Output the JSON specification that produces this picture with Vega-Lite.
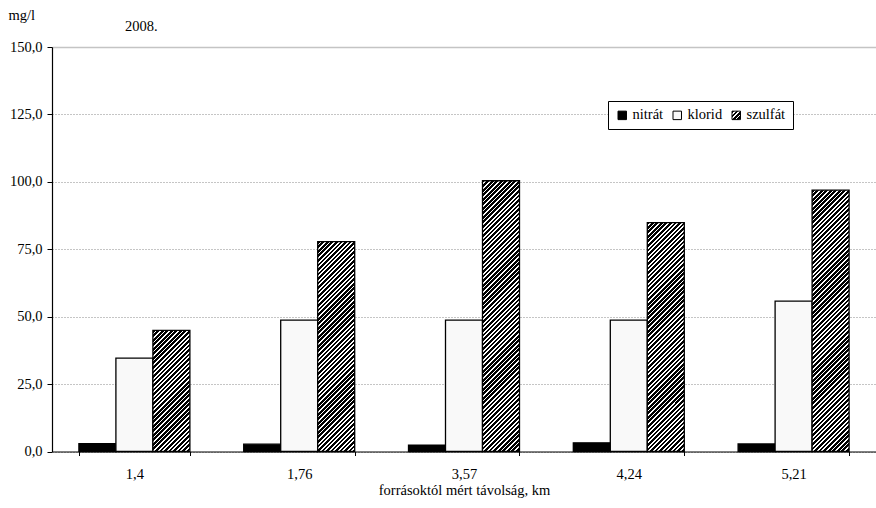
{
  "$schema": "https://vega.github.io/schema/vega-lite/v6.json",
  "width": 824,
  "height": 404.5,
  "autosize": {"type": "none"},
  "padding": {"left": 52, "top": 47, "right": 0, "bottom": 56.5},
  "background": "#ffffff",
  "title": {"text": "2008.", "anchor": "start", "frame": "group", "dx": 73, "dy": 53.5, "offset": 15.5, "baseline": "alphabetic", "font": "Liberation Serif", "fontSize": 14.5, "fontWeight": "normal", "color": "#000"},
  "params": [
    {"name": "hatch", "value": [
{"offset":0,"color":"#000"},{"offset":0.006,"color":"#000"},{"offset":0.006,"color":"#fff"},{"offset":0.01,"color":"#fff"},
{"offset":0.01,"color":"#000"},{"offset":0.016,"color":"#000"},{"offset":0.016,"color":"#fff"},{"offset":0.02,"color":"#fff"},
{"offset":0.02,"color":"#000"},{"offset":0.026,"color":"#000"},{"offset":0.026,"color":"#fff"},{"offset":0.03,"color":"#fff"},
{"offset":0.03,"color":"#000"},{"offset":0.036,"color":"#000"},{"offset":0.036,"color":"#fff"},{"offset":0.04,"color":"#fff"},
{"offset":0.04,"color":"#000"},{"offset":0.046,"color":"#000"},{"offset":0.046,"color":"#fff"},{"offset":0.05,"color":"#fff"},
{"offset":0.05,"color":"#000"},{"offset":0.056,"color":"#000"},{"offset":0.056,"color":"#fff"},{"offset":0.06,"color":"#fff"},
{"offset":0.06,"color":"#000"},{"offset":0.066,"color":"#000"},{"offset":0.066,"color":"#fff"},{"offset":0.07,"color":"#fff"},
{"offset":0.07,"color":"#000"},{"offset":0.076,"color":"#000"},{"offset":0.076,"color":"#fff"},{"offset":0.08,"color":"#fff"},
{"offset":0.08,"color":"#000"},{"offset":0.086,"color":"#000"},{"offset":0.086,"color":"#fff"},{"offset":0.09,"color":"#fff"},
{"offset":0.09,"color":"#000"},{"offset":0.096,"color":"#000"},{"offset":0.096,"color":"#fff"},{"offset":0.1,"color":"#fff"},
{"offset":0.1,"color":"#000"},{"offset":0.106,"color":"#000"},{"offset":0.106,"color":"#fff"},{"offset":0.11,"color":"#fff"},
{"offset":0.11,"color":"#000"},{"offset":0.116,"color":"#000"},{"offset":0.116,"color":"#fff"},{"offset":0.12,"color":"#fff"},
{"offset":0.12,"color":"#000"},{"offset":0.126,"color":"#000"},{"offset":0.126,"color":"#fff"},{"offset":0.13,"color":"#fff"},
{"offset":0.13,"color":"#000"},{"offset":0.136,"color":"#000"},{"offset":0.136,"color":"#fff"},{"offset":0.14,"color":"#fff"},
{"offset":0.14,"color":"#000"},{"offset":0.146,"color":"#000"},{"offset":0.146,"color":"#fff"},{"offset":0.15,"color":"#fff"},
{"offset":0.15,"color":"#000"},{"offset":0.156,"color":"#000"},{"offset":0.156,"color":"#fff"},{"offset":0.16,"color":"#fff"},
{"offset":0.16,"color":"#000"},{"offset":0.166,"color":"#000"},{"offset":0.166,"color":"#fff"},{"offset":0.17,"color":"#fff"},
{"offset":0.17,"color":"#000"},{"offset":0.176,"color":"#000"},{"offset":0.176,"color":"#fff"},{"offset":0.18,"color":"#fff"},
{"offset":0.18,"color":"#000"},{"offset":0.186,"color":"#000"},{"offset":0.186,"color":"#fff"},{"offset":0.19,"color":"#fff"},
{"offset":0.19,"color":"#000"},{"offset":0.196,"color":"#000"},{"offset":0.196,"color":"#fff"},{"offset":0.2,"color":"#fff"},
{"offset":0.2,"color":"#000"},{"offset":0.206,"color":"#000"},{"offset":0.206,"color":"#fff"},{"offset":0.21,"color":"#fff"},
{"offset":0.21,"color":"#000"},{"offset":0.216,"color":"#000"},{"offset":0.216,"color":"#fff"},{"offset":0.22,"color":"#fff"},
{"offset":0.22,"color":"#000"},{"offset":0.226,"color":"#000"},{"offset":0.226,"color":"#fff"},{"offset":0.23,"color":"#fff"},
{"offset":0.23,"color":"#000"},{"offset":0.236,"color":"#000"},{"offset":0.236,"color":"#fff"},{"offset":0.24,"color":"#fff"},
{"offset":0.24,"color":"#000"},{"offset":0.246,"color":"#000"},{"offset":0.246,"color":"#fff"},{"offset":0.25,"color":"#fff"},
{"offset":0.25,"color":"#000"},{"offset":0.256,"color":"#000"},{"offset":0.256,"color":"#fff"},{"offset":0.26,"color":"#fff"},
{"offset":0.26,"color":"#000"},{"offset":0.266,"color":"#000"},{"offset":0.266,"color":"#fff"},{"offset":0.27,"color":"#fff"},
{"offset":0.27,"color":"#000"},{"offset":0.276,"color":"#000"},{"offset":0.276,"color":"#fff"},{"offset":0.28,"color":"#fff"},
{"offset":0.28,"color":"#000"},{"offset":0.286,"color":"#000"},{"offset":0.286,"color":"#fff"},{"offset":0.29,"color":"#fff"},
{"offset":0.29,"color":"#000"},{"offset":0.296,"color":"#000"},{"offset":0.296,"color":"#fff"},{"offset":0.3,"color":"#fff"},
{"offset":0.3,"color":"#000"},{"offset":0.306,"color":"#000"},{"offset":0.306,"color":"#fff"},{"offset":0.31,"color":"#fff"},
{"offset":0.31,"color":"#000"},{"offset":0.316,"color":"#000"},{"offset":0.316,"color":"#fff"},{"offset":0.32,"color":"#fff"},
{"offset":0.32,"color":"#000"},{"offset":0.326,"color":"#000"},{"offset":0.326,"color":"#fff"},{"offset":0.33,"color":"#fff"},
{"offset":0.33,"color":"#000"},{"offset":0.336,"color":"#000"},{"offset":0.336,"color":"#fff"},{"offset":0.34,"color":"#fff"},
{"offset":0.34,"color":"#000"},{"offset":0.346,"color":"#000"},{"offset":0.346,"color":"#fff"},{"offset":0.35,"color":"#fff"},
{"offset":0.35,"color":"#000"},{"offset":0.356,"color":"#000"},{"offset":0.356,"color":"#fff"},{"offset":0.36,"color":"#fff"},
{"offset":0.36,"color":"#000"},{"offset":0.366,"color":"#000"},{"offset":0.366,"color":"#fff"},{"offset":0.37,"color":"#fff"},
{"offset":0.37,"color":"#000"},{"offset":0.376,"color":"#000"},{"offset":0.376,"color":"#fff"},{"offset":0.38,"color":"#fff"},
{"offset":0.38,"color":"#000"},{"offset":0.386,"color":"#000"},{"offset":0.386,"color":"#fff"},{"offset":0.39,"color":"#fff"},
{"offset":0.39,"color":"#000"},{"offset":0.396,"color":"#000"},{"offset":0.396,"color":"#fff"},{"offset":0.4,"color":"#fff"},
{"offset":0.4,"color":"#000"},{"offset":0.406,"color":"#000"},{"offset":0.406,"color":"#fff"},{"offset":0.41,"color":"#fff"},
{"offset":0.41,"color":"#000"},{"offset":0.416,"color":"#000"},{"offset":0.416,"color":"#fff"},{"offset":0.42,"color":"#fff"},
{"offset":0.42,"color":"#000"},{"offset":0.426,"color":"#000"},{"offset":0.426,"color":"#fff"},{"offset":0.43,"color":"#fff"},
{"offset":0.43,"color":"#000"},{"offset":0.436,"color":"#000"},{"offset":0.436,"color":"#fff"},{"offset":0.44,"color":"#fff"},
{"offset":0.44,"color":"#000"},{"offset":0.446,"color":"#000"},{"offset":0.446,"color":"#fff"},{"offset":0.45,"color":"#fff"},
{"offset":0.45,"color":"#000"},{"offset":0.456,"color":"#000"},{"offset":0.456,"color":"#fff"},{"offset":0.46,"color":"#fff"},
{"offset":0.46,"color":"#000"},{"offset":0.466,"color":"#000"},{"offset":0.466,"color":"#fff"},{"offset":0.47,"color":"#fff"},
{"offset":0.47,"color":"#000"},{"offset":0.476,"color":"#000"},{"offset":0.476,"color":"#fff"},{"offset":0.48,"color":"#fff"},
{"offset":0.48,"color":"#000"},{"offset":0.486,"color":"#000"},{"offset":0.486,"color":"#fff"},{"offset":0.49,"color":"#fff"},
{"offset":0.49,"color":"#000"},{"offset":0.496,"color":"#000"},{"offset":0.496,"color":"#fff"},{"offset":0.5,"color":"#fff"},
{"offset":0.5,"color":"#000"},{"offset":0.506,"color":"#000"},{"offset":0.506,"color":"#fff"},{"offset":0.51,"color":"#fff"},
{"offset":0.51,"color":"#000"},{"offset":0.516,"color":"#000"},{"offset":0.516,"color":"#fff"},{"offset":0.52,"color":"#fff"},
{"offset":0.52,"color":"#000"},{"offset":0.526,"color":"#000"},{"offset":0.526,"color":"#fff"},{"offset":0.53,"color":"#fff"},
{"offset":0.53,"color":"#000"},{"offset":0.536,"color":"#000"},{"offset":0.536,"color":"#fff"},{"offset":0.54,"color":"#fff"},
{"offset":0.54,"color":"#000"},{"offset":0.546,"color":"#000"},{"offset":0.546,"color":"#fff"},{"offset":0.55,"color":"#fff"},
{"offset":0.55,"color":"#000"},{"offset":0.556,"color":"#000"},{"offset":0.556,"color":"#fff"},{"offset":0.56,"color":"#fff"},
{"offset":0.56,"color":"#000"},{"offset":0.566,"color":"#000"},{"offset":0.566,"color":"#fff"},{"offset":0.57,"color":"#fff"},
{"offset":0.57,"color":"#000"},{"offset":0.576,"color":"#000"},{"offset":0.576,"color":"#fff"},{"offset":0.58,"color":"#fff"},
{"offset":0.58,"color":"#000"},{"offset":0.586,"color":"#000"},{"offset":0.586,"color":"#fff"},{"offset":0.59,"color":"#fff"},
{"offset":0.59,"color":"#000"},{"offset":0.596,"color":"#000"},{"offset":0.596,"color":"#fff"},{"offset":0.6,"color":"#fff"},
{"offset":0.6,"color":"#000"},{"offset":0.606,"color":"#000"},{"offset":0.606,"color":"#fff"},{"offset":0.61,"color":"#fff"},
{"offset":0.61,"color":"#000"},{"offset":0.616,"color":"#000"},{"offset":0.616,"color":"#fff"},{"offset":0.62,"color":"#fff"},
{"offset":0.62,"color":"#000"},{"offset":0.626,"color":"#000"},{"offset":0.626,"color":"#fff"},{"offset":0.63,"color":"#fff"},
{"offset":0.63,"color":"#000"},{"offset":0.636,"color":"#000"},{"offset":0.636,"color":"#fff"},{"offset":0.64,"color":"#fff"},
{"offset":0.64,"color":"#000"},{"offset":0.646,"color":"#000"},{"offset":0.646,"color":"#fff"},{"offset":0.65,"color":"#fff"},
{"offset":0.65,"color":"#000"},{"offset":0.656,"color":"#000"},{"offset":0.656,"color":"#fff"},{"offset":0.66,"color":"#fff"},
{"offset":0.66,"color":"#000"},{"offset":0.666,"color":"#000"},{"offset":0.666,"color":"#fff"},{"offset":0.67,"color":"#fff"},
{"offset":0.67,"color":"#000"},{"offset":0.676,"color":"#000"},{"offset":0.676,"color":"#fff"},{"offset":0.68,"color":"#fff"},
{"offset":0.68,"color":"#000"},{"offset":0.686,"color":"#000"},{"offset":0.686,"color":"#fff"},{"offset":0.69,"color":"#fff"},
{"offset":0.69,"color":"#000"},{"offset":0.696,"color":"#000"},{"offset":0.696,"color":"#fff"},{"offset":0.7,"color":"#fff"}
    ]}
  ],
  "data": {"values": [
    {"kat": "1,4", "anyag": "nitrát", "ertek": 2.9},
    {"kat": "1,4", "anyag": "klorid", "ertek": 34.6},
    {"kat": "1,4", "anyag": "szulfát", "ertek": 44.9},
    {"kat": "1,76", "anyag": "nitrát", "ertek": 2.7},
    {"kat": "1,76", "anyag": "klorid", "ertek": 48.7},
    {"kat": "1,76", "anyag": "szulfát", "ertek": 77.8},
    {"kat": "3,57", "anyag": "nitrát", "ertek": 2.4},
    {"kat": "3,57", "anyag": "klorid", "ertek": 48.7},
    {"kat": "3,57", "anyag": "szulfát", "ertek": 100.4},
    {"kat": "4,24", "anyag": "nitrát", "ertek": 3.2},
    {"kat": "4,24", "anyag": "klorid", "ertek": 48.7},
    {"kat": "4,24", "anyag": "szulfát", "ertek": 84.9},
    {"kat": "5,21", "anyag": "nitrát", "ertek": 2.8},
    {"kat": "5,21", "anyag": "klorid", "ertek": 55.8},
    {"kat": "5,21", "anyag": "szulfát", "ertek": 96.9}
  ]},
  "mark": {
    "type": "bar",
    "stroke": "#000",
    "strokeWidth": 1.3,
    "fill": {"expr": "(datum.anyag || datum.value) === 'szulfát' ? (datum.anyag ? {gradient: 'linear', x1: 0, y1: 0, x2: 452.5 * 37 / (1369 + pow(scale('y', 0) - scale('y', datum.ertek), 2)), y2: 452.5 * (scale('y', 0) - scale('y', datum.ertek)) / (1369 + pow(scale('y', 0) - scale('y', datum.ertek), 2)), stops: hatch} : {gradient: 'linear', x1: 0, y1: 0, x2: 25, y2: 25, stops: hatch}) : ((datum.anyag || datum.value) === 'nitrát' ? '#000000' : '#f9f9f9')"}
  },
  "encoding": {
    "x": {
      "field": "kat", "type": "nominal",
      "sort": ["1,4", "1,76", "3,57", "4,24", "5,21"],
      "scale": {"paddingInner": 0.3265, "paddingOuter": 0.16325},
      "axis": {
        "title": "forrásoktól mért távolság, km",
        "labelAngle": 0,
        "tickBand": "extent",
        "tickSize": 4,
        "tickColor": "#000",
        "domainColor": "#000",
        "domainWidth": 1.2,
        "labelPadding": 12,
        "grid": false,
        "titleY": 43,
        "titleBaseline": "alphabetic"
      }
    },
    "xOffset": {
      "field": "anyag", "type": "nominal",
      "scale": {"domain": ["nitrát", "klorid", "szulfát"], "paddingInner": 0, "paddingOuter": 0}
    },
    "y": {
      "field": "ertek", "type": "quantitative",
      "scale": {"domain": [0, 150], "nice": false},
      "axis": {
        "values": [0, 25, 50, 75, 100, 125, 150],
        "labelExpr": "replace(format(datum.value, '.1f'), '.', ',')",
        "title": "mg/l",
        "titleAngle": 0,
        "titleX": -44,
        "titleY": -28,
        "titleAlign": "left",
        "titleBaseline": "alphabetic",
        "tickSize": 5,
        "tickColor": "#000",
        "domainColor": "#000",
        "domainWidth": 1.2,
        "labelPadding": 5,
        "grid": true,
        "gridColor": {"condition": {"test": "datum.value === 150", "value": "#c4c4c4"}, "value": "#8a8a8a"},
        "gridDash": {"condition": {"test": "datum.value === 150", "value": []}, "value": [1, 2]},
        "gridWidth": {"condition": {"test": "datum.value === 150", "value": 1.5}, "value": 1}
      }
    },
    "stroke": {
      "field": "anyag", "type": "nominal",
      "scale": {"domain": ["nitrát", "klorid", "szulfát"], "range": ["#000000", "#000000", "#000000"]},
      "legend": {
        "orient": "none",
        "legendX": 556,
        "legendY": 54,
        "direction": "horizontal",
        "title": null,
        "symbolType": "square",
        "symbolSize": 72,
        "symbolStrokeWidth": 1,
        "labelFont": "Liberation Serif",
        "labelFontSize": 14.5,
        "labelColor": "#000",
        "labelOffset": 3,
        "columnPadding": 6,
        "padding": 7,
        "strokeColor": "#000",
        "fillColor": "#ffffff"
      }
    }
  },
  "config": {
    "font": "Liberation Serif",
    "view": {"stroke": null},
    "axis": {
      "labelFont": "Liberation Serif",
      "labelFontSize": 14.5,
      "labelColor": "#000",
      "titleFont": "Liberation Serif",
      "titleFontSize": 14.5,
      "titleFontWeight": "normal",
      "titleColor": "#000"
    }
  }
}
